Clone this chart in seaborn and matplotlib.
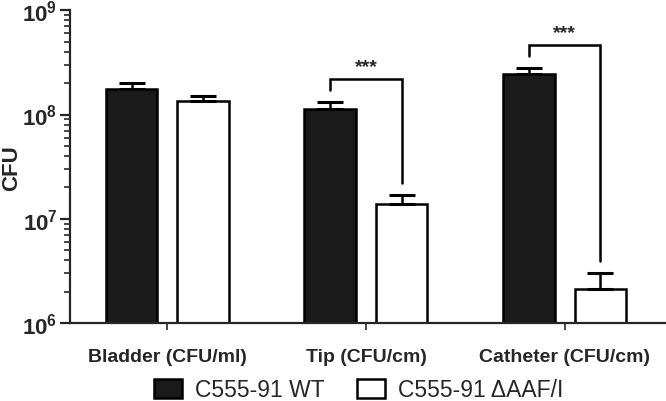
import pandas as pd
import matplotlib
matplotlib.use('Agg')
import matplotlib.pyplot as plt
import seaborn as sns

# datos
sites = ['Bladder (CFU/ml)', 'Tip (CFU/cm)', 'Catheter (CFU/cm)']
strains = ['C555-91 WT', 'C555-91 \u0394AAF/I']
wt_cfu = [1.76e8, 1.13e8, 2.45e8]
mut_cfu = [1.35e8, 1.40e7, 2.12e6]
wt_err = [0.24e8, 0.19e8, 0.35e8]
mut_err = [0.15e8, 0.30e7, 0.90e6]
signif = {1: '***', 2: '***'}

sns.set_style('ticks')
plt.rcParams['font.family'] = ['Liberation Sans', 'DejaVu Sans']
plt.rcParams['mathtext.fontset'] = 'custom'
plt.rcParams['mathtext.bf'] = 'Liberation Sans:bold'
plt.rcParams['mathtext.rm'] = 'Liberation Sans:bold'

df = pd.DataFrame({
    'site': sites * 2,
    'strain': [strains[0]] * 3 + [strains[1]] * 3,
    'cfu': wt_cfu + mut_cfu,
})

fig = plt.figure(figsize=(6.66, 4.02), dpi=100)
ax = fig.add_axes([0.105, 0.194, 0.895, 0.778])

sns.barplot(data=df, x='site', y='cfu', hue='strain', hue_order=strains,
            palette={strains[0]: '#1a1a1a', strains[1]: 'white'},
            edgecolor='black', linewidth=1.8, width=0.72, gap=0.28,
            errorbar=None, ax=ax)
ax.set_yscale('log')
ax.set_ylim(1e6, 1e9)
ax.set_xlim(-0.49, 2.51)

# barras de error (solo hacia arriba)
tops = {}
for cont, vals, errs in zip(ax.containers, [wt_cfu, mut_cfu], [wt_err, mut_err]):
    xs = [b.get_x() + b.get_width() / 2 for b in cont]
    ax.errorbar(xs, vals, yerr=[[0] * len(vals), errs], fmt='none',
                ecolor='black', elinewidth=1.8, capsize=9.5, capthick=2.2)
    for i, (x, v, e) in enumerate(zip(xs, vals, errs)):
        tops.setdefault(i, []).append((x, v + e))

# corchetes de significancia
for i, stars in signif.items():
    (x1, t1), (x2, t2) = tops[i]
    y_top = t1 * 1.65
    ax.plot([x1, x1, x2, x2], [t1 * 1.3, y_top, y_top, t2 * 1.3],
            color='black', lw=1.8, solid_joinstyle='miter')
    ax.annotate(stars, xy=((x1 + x2) / 2, y_top), xytext=(0, 3),
                textcoords='offset points', ha='center', va='bottom',
                fontsize=14, fontweight='bold')

sns.despine(ax=ax)
for s in ['left', 'bottom']:
    ax.spines[s].set_linewidth(1.6)
ax.set_yticks([1e6, 1e7, 1e8, 1e9])
ax.set_yticklabels([r'$\mathbf{10^{%d}}$' % p for p in [6, 7, 8, 9]])
ax.tick_params(axis='y', which='major', length=7, width=1.6, labelsize=16, pad=2)
ax.tick_params(axis='y', which='minor', length=4, width=1.2)
ax.tick_params(axis='x', length=5, width=1.2, labelsize=14, pad=13)
for lab in ax.get_xticklabels():
    lab.set_fontweight('bold')
ax.set_xlabel('')
ax.set_ylabel('CFU', fontsize=16, fontweight='bold', labelpad=0)

handles, labels = ax.get_legend_handles_labels()
ax.get_legend().remove()
fig.legend(handles, labels, loc='lower center', bbox_to_anchor=(0.539, -0.035),
           ncol=2, frameon=False, fontsize=16.5, handlelength=1.2,
           handleheight=0.9, columnspacing=1.4, handletextpad=0.6, borderpad=0.1)

fig.savefig('out.png', dpi=100)
